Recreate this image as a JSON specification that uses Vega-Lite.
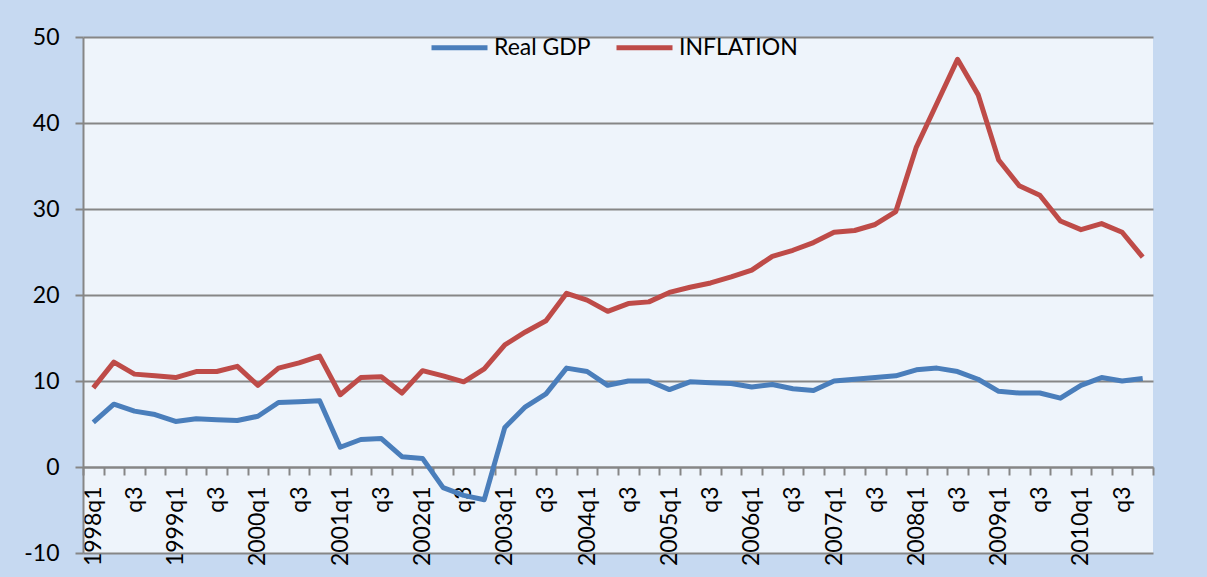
{
  "$schema": "https://vega.github.io/schema/vega-lite/v6.json",
  "width": 1070,
  "height": 516,
  "autosize": {"type": "none"},
  "padding": {"left": 83, "top": 37, "right": 54, "bottom": 24},
  "background": "#C6D9F1",
  "view": {"fill": "#EEF4FB", "stroke": null},
  "data": {"values": [
    {"q":"1998q1","s":"Real GDP","v":5.2},{"q":"1998q2","s":"Real GDP","v":7.3},{"q":"1998q3","s":"Real GDP","v":6.5},{"q":"1998q4","s":"Real GDP","v":6.1},
    {"q":"1999q1","s":"Real GDP","v":5.3},{"q":"1999q2","s":"Real GDP","v":5.6},{"q":"1999q3","s":"Real GDP","v":5.5},{"q":"1999q4","s":"Real GDP","v":5.4},
    {"q":"2000q1","s":"Real GDP","v":5.9},{"q":"2000q2","s":"Real GDP","v":7.5},{"q":"2000q3","s":"Real GDP","v":7.6},{"q":"2000q4","s":"Real GDP","v":7.7},
    {"q":"2001q1","s":"Real GDP","v":2.3},{"q":"2001q2","s":"Real GDP","v":3.2},{"q":"2001q3","s":"Real GDP","v":3.3},{"q":"2001q4","s":"Real GDP","v":1.2},
    {"q":"2002q1","s":"Real GDP","v":1.0},{"q":"2002q2","s":"Real GDP","v":-2.4},{"q":"2002q3","s":"Real GDP","v":-3.3},{"q":"2002q4","s":"Real GDP","v":-3.8},
    {"q":"2003q1","s":"Real GDP","v":4.6},{"q":"2003q2","s":"Real GDP","v":7.0},{"q":"2003q3","s":"Real GDP","v":8.5},{"q":"2003q4","s":"Real GDP","v":11.5},
    {"q":"2004q1","s":"Real GDP","v":11.1},{"q":"2004q2","s":"Real GDP","v":9.5},{"q":"2004q3","s":"Real GDP","v":10.0},{"q":"2004q4","s":"Real GDP","v":10.0},
    {"q":"2005q1","s":"Real GDP","v":9.0},{"q":"2005q2","s":"Real GDP","v":9.9},{"q":"2005q3","s":"Real GDP","v":9.8},{"q":"2005q4","s":"Real GDP","v":9.7},
    {"q":"2006q1","s":"Real GDP","v":9.3},{"q":"2006q2","s":"Real GDP","v":9.6},{"q":"2006q3","s":"Real GDP","v":9.1},{"q":"2006q4","s":"Real GDP","v":8.9},
    {"q":"2007q1","s":"Real GDP","v":10.0},{"q":"2007q2","s":"Real GDP","v":10.2},{"q":"2007q3","s":"Real GDP","v":10.4},{"q":"2007q4","s":"Real GDP","v":10.6},
    {"q":"2008q1","s":"Real GDP","v":11.3},{"q":"2008q2","s":"Real GDP","v":11.5},{"q":"2008q3","s":"Real GDP","v":11.1},{"q":"2008q4","s":"Real GDP","v":10.2},
    {"q":"2009q1","s":"Real GDP","v":8.8},{"q":"2009q2","s":"Real GDP","v":8.6},{"q":"2009q3","s":"Real GDP","v":8.6},{"q":"2009q4","s":"Real GDP","v":8.0},
    {"q":"2010q1","s":"Real GDP","v":9.5},{"q":"2010q2","s":"Real GDP","v":10.4},{"q":"2010q3","s":"Real GDP","v":10.0},{"q":"2010q4","s":"Real GDP","v":10.3},
    {"q":"1998q1","s":"INFLATION","v":9.2},{"q":"1998q2","s":"INFLATION","v":12.2},{"q":"1998q3","s":"INFLATION","v":10.8},{"q":"1998q4","s":"INFLATION","v":10.6},
    {"q":"1999q1","s":"INFLATION","v":10.4},{"q":"1999q2","s":"INFLATION","v":11.1},{"q":"1999q3","s":"INFLATION","v":11.1},{"q":"1999q4","s":"INFLATION","v":11.7},
    {"q":"2000q1","s":"INFLATION","v":9.5},{"q":"2000q2","s":"INFLATION","v":11.5},{"q":"2000q3","s":"INFLATION","v":12.1},{"q":"2000q4","s":"INFLATION","v":12.9},
    {"q":"2001q1","s":"INFLATION","v":8.4},{"q":"2001q2","s":"INFLATION","v":10.4},{"q":"2001q3","s":"INFLATION","v":10.5},{"q":"2001q4","s":"INFLATION","v":8.6},
    {"q":"2002q1","s":"INFLATION","v":11.2},{"q":"2002q2","s":"INFLATION","v":10.6},{"q":"2002q3","s":"INFLATION","v":9.9},{"q":"2002q4","s":"INFLATION","v":11.4},
    {"q":"2003q1","s":"INFLATION","v":14.2},{"q":"2003q2","s":"INFLATION","v":15.7},{"q":"2003q3","s":"INFLATION","v":17.0},{"q":"2003q4","s":"INFLATION","v":20.2},
    {"q":"2004q1","s":"INFLATION","v":19.4},{"q":"2004q2","s":"INFLATION","v":18.1},{"q":"2004q3","s":"INFLATION","v":19.0},{"q":"2004q4","s":"INFLATION","v":19.2},
    {"q":"2005q1","s":"INFLATION","v":20.3},{"q":"2005q2","s":"INFLATION","v":20.9},{"q":"2005q3","s":"INFLATION","v":21.4},{"q":"2005q4","s":"INFLATION","v":22.1},
    {"q":"2006q1","s":"INFLATION","v":22.9},{"q":"2006q2","s":"INFLATION","v":24.5},{"q":"2006q3","s":"INFLATION","v":25.2},{"q":"2006q4","s":"INFLATION","v":26.1},
    {"q":"2007q1","s":"INFLATION","v":27.3},{"q":"2007q2","s":"INFLATION","v":27.5},{"q":"2007q3","s":"INFLATION","v":28.2},{"q":"2007q4","s":"INFLATION","v":29.7},
    {"q":"2008q1","s":"INFLATION","v":37.2},{"q":"2008q2","s":"INFLATION","v":42.3},{"q":"2008q3","s":"INFLATION","v":47.4},{"q":"2008q4","s":"INFLATION","v":43.3},
    {"q":"2009q1","s":"INFLATION","v":35.7},{"q":"2009q2","s":"INFLATION","v":32.7},{"q":"2009q3","s":"INFLATION","v":31.6},{"q":"2009q4","s":"INFLATION","v":28.6},
    {"q":"2010q1","s":"INFLATION","v":27.6},{"q":"2010q2","s":"INFLATION","v":28.3},{"q":"2010q3","s":"INFLATION","v":27.3},{"q":"2010q4","s":"INFLATION","v":24.4}
  ]},
  "mark": {"type": "line", "strokeWidth": 5, "strokeJoin": "round", "strokeCap": "butt"},
  "encoding": {
    "x": {
      "field": "q", "type": "ordinal", "sort": null, "bandPosition": 0.5,
      "scale": {"type": "band", "paddingInner": 0, "paddingOuter": 0},
      "axis": {
        "title": null, "orient": "bottom", "offset": -86, "tickBand": "extent",
        "grid": false, "tickSize": 8, "tickColor": "#868686", "tickWidth": 2,
        "domainColor": "#868686", "domainWidth": 2,
        "labelAngle": 270, "labelFont": "Lato", "labelFontSize": 23, "labelColor": "#000000",
        "labelPadding": 11, "labelOverlap": false,
        "labelExpr": "indexof(datum.label, 'q1') > 0 ? datum.label : (indexof(datum.label, 'q3') > 0 ? 'q3' : '')"
      }
    },
    "y": {
      "field": "v", "type": "quantitative",
      "scale": {"domain": [-10, 50], "nice": false, "zero": false},
      "axis": {
        "title": null, "values": [-10, 0, 10, 20, 30, 40, 50],
        "grid": true, "gridColor": "#868686", "gridWidth": 2,
        "domainColor": "#868686", "domainWidth": 2,
        "tickSize": 8, "tickColor": "#868686", "tickWidth": 2,
        "labelExpr": "toString(datum.value)",
        "labelFont": "Lato", "labelFontSize": 23, "labelColor": "#000000", "labelPadding": 16
      }
    },
    "color": {
      "field": "s", "type": "nominal",
      "scale": {"domain": ["Real GDP", "INFLATION"], "range": ["#4A7EBB", "#BE4B48"]},
      "legend": {
        "title": null, "orient": "none", "direction": "horizontal",
        "legendX": 346, "legendY": -20,
        "symbolType": "stroke", "symbolSize": 3136, "symbolStrokeWidth": 5,
        "labelFont": "Lato", "labelFontSize": 23, "labelColor": "#000000",
        "labelOffset": 4, "columnPadding": 15
      }
    }
  }
}
